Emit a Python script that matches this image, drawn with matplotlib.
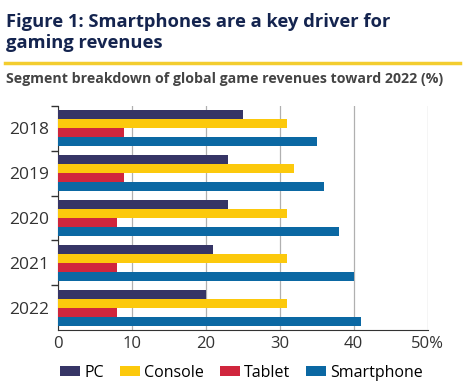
import matplotlib
matplotlib.use("Agg")
import matplotlib.pyplot as plt
import numpy as np
from matplotlib.lines import Line2D

plt.rcParams["font.family"] = ["Open Sans", "DejaVu Sans"]

# 数据
years = ["2018", "2019", "2020", "2021", "2022"]
series_names = ["PC", "Console", "Tablet", "Smartphone"]
pc = [25, 23, 23, 21, 20]
console = [31, 32, 31, 31, 31]
tablet = [9, 9, 8, 8, 8]
smartphone = [35, 36, 38, 40, 41]
x_ticks = [0, 10, 20, 30, 40, 50]
x_labels = ["0", "10", "20", "30", "40", "50%"]

colors = ["#363566", "#fcc90c", "#d0263d", "#0b68a3"]
title_color = "#14244f"

fig = plt.figure(figsize=(4.65, 3.92), dpi=100)
ax = fig.add_axes([0.1237, 0.158, 0.7963, 0.572])

y = np.arange(len(years))
bar_h = 0.2
for i, (name, vals) in enumerate(zip(series_names, [pc, console, tablet, smartphone])):
    ax.barh(y - 0.3 + i * bar_h, vals, height=bar_h, color=colors[i], label=name, zorder=3)

ax.set_xlim(0, 50)
ax.set_ylim(len(years) - 0.5, -0.5)
ax.set_xticks(x_ticks)
ax.set_xticklabels(x_labels, fontsize=12, color="#333333")
ax.set_yticks(y)
ax.set_yticklabels(years, fontsize=12.5, color="#333333")
ax.set_yticks(np.arange(-0.5, len(years) - 0.5, 1), minor=True)
ax.tick_params(axis="y", which="major", length=0, pad=6)
ax.tick_params(axis="y", which="minor", length=5, width=1, color="#333333")
ax.tick_params(axis="x", length=0, pad=4)

ax.grid(axis="x", color="#b0b0b0", linewidth=0.9, zorder=0)
for s in ["top", "right"]:
    ax.spines[s].set_visible(False)
ax.spines["left"].set_color("#333333")
ax.spines["bottom"].set_color("#333333")

# 图例
ax.legend(loc="center", bbox_to_anchor=(0.497, -0.19), ncol=4, frameon=False,
          fontsize=11.5, handlelength=1.25, handleheight=0.6, handletextpad=0.25,
          columnspacing=1.0)

# 标题
fig.text(0.012, 0.968, "Figure 1: Smartphones are a key driver for\ngaming revenues",
         fontsize=13.2, fontweight="bold", color=title_color, va="top", ha="left",
         linespacing=1.25)
fig.add_artist(Line2D([0.011, 0.99], [1 - 63 / 392, 1 - 63 / 392],
                      color="#f3cd2f", linewidth=2.5))
fig.text(0.012, 1 - 79 / 392, "Segment breakdown of global game revenues toward 2022 (%)",
         fontsize=10.2, fontweight="bold", color="#444444", va="center", ha="left")

fig.savefig("out.png", dpi=100)
